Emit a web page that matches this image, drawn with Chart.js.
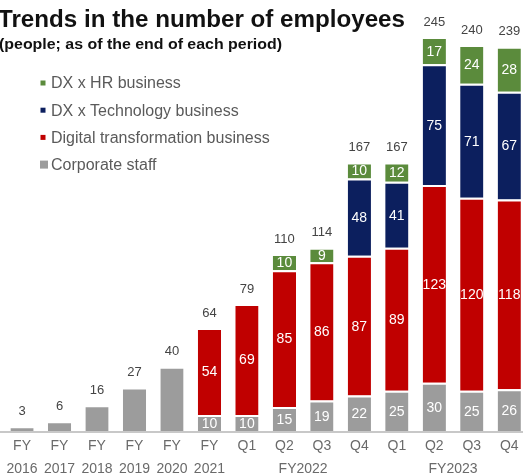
<!DOCTYPE html>
<html>
<head>
<meta charset="utf-8">
<script src="https://cdn.jsdelivr.net/npm/chart.js@4/dist/chart.umd.min.js"></script>
<style>
  html, body { margin: 0; padding: 0; background: #fff; overflow: hidden; }
  #wrap { width: 528px; height: 476px; }
</style>
</head>
<body>
<div id="wrap"><canvas id="empChart" width="528" height="476"></canvas></div>
<script>
// periods along the x axis
var periods = ["FY2016", "FY2017", "FY2018", "FY2019", "FY2020", "FY2021",
  "FY2022 Q1", "FY2022 Q2", "FY2022 Q3", "FY2022 Q4",
  "FY2023 Q1", "FY2023 Q2", "FY2023 Q3", "FY2023 Q4"];
var tickTop = ["FY", "FY", "FY", "FY", "FY", "FY", "Q1", "Q2", "Q3", "Q4", "Q1", "Q2", "Q3", "Q4"];
var tickBottom = ["2016", "2017", "2018", "2019", "2020", "2021", "", "", "", "", "", "", "", ""];
var fiscalGroups = [
  { text: "FY2022", from: 6, to: 9 },
  { text: "FY2023", from: 10, to: 13 }
];

// headcount per segment
var corporateStaff = [3, 6, 16, 27, 40, 10, 10, 15, 19, 22, 25, 30, 25, 26];
var dxBusiness = [null, null, null, null, null, 54, 69, 85, 86, 87, 89, 123, 120, 118];
var techBusiness = [null, null, null, null, null, null, null, null, null, 48, 41, 75, 71, 67];
var hrBusiness = [null, null, null, null, null, null, null, 10, 9, 10, 12, 17, 24, 28];

var FONT = "'Liberation Sans', Arial, Helvetica, sans-serif";

// draws text squeezed or stretched to a given width
function fitText(c, text, x, y, width) {
  var w = c.measureText(text).width;
  c.save();
  c.translate(x, y);
  c.scale(width / w, 1);
  c.fillText(text, 0, 0);
  c.restore();
}

// labels inside each segment, totals on top, axis text, title and legend
var labelPlugin = {
  id: "labelPlugin",
  beforeDatasetsDraw: function (chart) {
    var c = chart.ctx, area = chart.chartArea;
    c.save();
    c.strokeStyle = "#c8c8c8";
    c.lineWidth = 2;
    c.beginPath();
    c.moveTo(0, area.bottom + 1);
    c.lineTo(chart.width, area.bottom + 1);
    c.stroke();
    c.restore();
  },
  afterDatasetsDraw: function (chart) {
    var c = chart.ctx, x = chart.scales.x, y = chart.scales.y;
    var ds = chart.data.datasets;
    c.save();
    c.textAlign = "center";
    c.textBaseline = "middle";

    for (var j = 0; j < periods.length; j++) {
      var total = 0, parts = 0;
      for (var i = 0; i < ds.length; i++) {
        if (ds[i].data[j] != null) { total += ds[i].data[j]; parts++; }
      }
      // values inside segments (only for stacked bars)
      if (parts > 1) {
        c.font = "14px " + FONT;
        c.fillStyle = "#ffffff";
        for (var i = 0; i < ds.length; i++) {
          var v = ds[i].data[j];
          if (v == null) continue;
          var bar = chart.getDatasetMeta(i).data[j];
          c.fillText(String(v), bar.x, (bar.y + bar.base) / 2 + 1);
        }
      }
      // total above the bar
      c.font = "13px " + FONT;
      c.fillStyle = "#444";
      c.fillText(String(total), x.getPixelForValue(j), y.getPixelForValue(total) - 15);
    }

    // x axis text
    c.font = "14px " + FONT;
    c.fillStyle = "#6a6a6a";
    var axisY = chart.chartArea.bottom;
    for (var j = 0; j < periods.length; j++) {
      var px = x.getPixelForValue(j);
      c.fillText(tickTop[j], px, axisY + 15);
      if (tickBottom[j]) c.fillText(tickBottom[j], px, axisY + 38);
    }
    fiscalGroups.forEach(function (g) {
      var mid = (x.getPixelForValue(g.from) + x.getPixelForValue(g.to)) / 2;
      c.fillText(g.text, mid, axisY + 38);
    });
    c.restore();
  },
  afterDraw: function (chart) {
    var c = chart.ctx;
    c.save();
    c.textAlign = "left";
    c.textBaseline = "alphabetic";
    c.fillStyle = "#111";
    c.font = "bold 23px " + FONT;
    fitText(c, "Trends in the number of employees", -2, 27, 407);
    c.font = "bold 15px " + FONT;
    fitText(c, "(people; as of the end of each period)", -1, 49, 283);

    // legend, top series first
    var ds = chart.data.datasets;
    c.font = "16px " + FONT;
    c.textBaseline = "middle";
    for (var k = 0; k < ds.length; k++) {
      var item = ds[ds.length - 1 - k];
      var ly = 83 + k * 27.2;
      var s = k === ds.length - 1 ? 8 : 5;
      c.fillStyle = item.backgroundColor;
      c.fillRect(44 - s / 2 - (s > 5 ? 0 : 1), ly - s / 2, s, s);
      c.fillStyle = "#5a5a5a";
      c.fillText(item.label, 51, ly + 1);
    }
    c.restore();
  }
};

function series(label, data, color) {
  return {
    label: label,
    data: data,
    backgroundColor: color,
    borderColor: "#ffffff",
    borderWidth: { top: 2, bottom: 0, left: 0, right: 0 },
    borderSkipped: false,
    barPercentage: 0.62,
    categoryPercentage: 1.0
  };
}

new Chart(document.getElementById("empChart"), {
  type: "bar",
  data: {
    labels: periods,
    datasets: [
      series("Corporate staff", corporateStaff, "#9c9c9c"),
      series("Digital transformation business", dxBusiness, "#c00000"),
      series("DX x Technology business", techBusiness, "#0c1f5e"),
      series("DX x HR business", hrBusiness, "#5b8b3c")
    ]
  },
  options: {
    responsive: false,
    animation: false,
    layout: { padding: { top: 37, bottom: 45, left: 3.3, right: 0 } },
    plugins: {
      legend: { display: false },
      tooltip: { enabled: false }
    },
    scales: {
      x: { stacked: true, display: false },
      y: { stacked: true, display: false, min: 0, max: 245 }
    }
  },
  plugins: [labelPlugin]
});
</script>
</body>
</html>
